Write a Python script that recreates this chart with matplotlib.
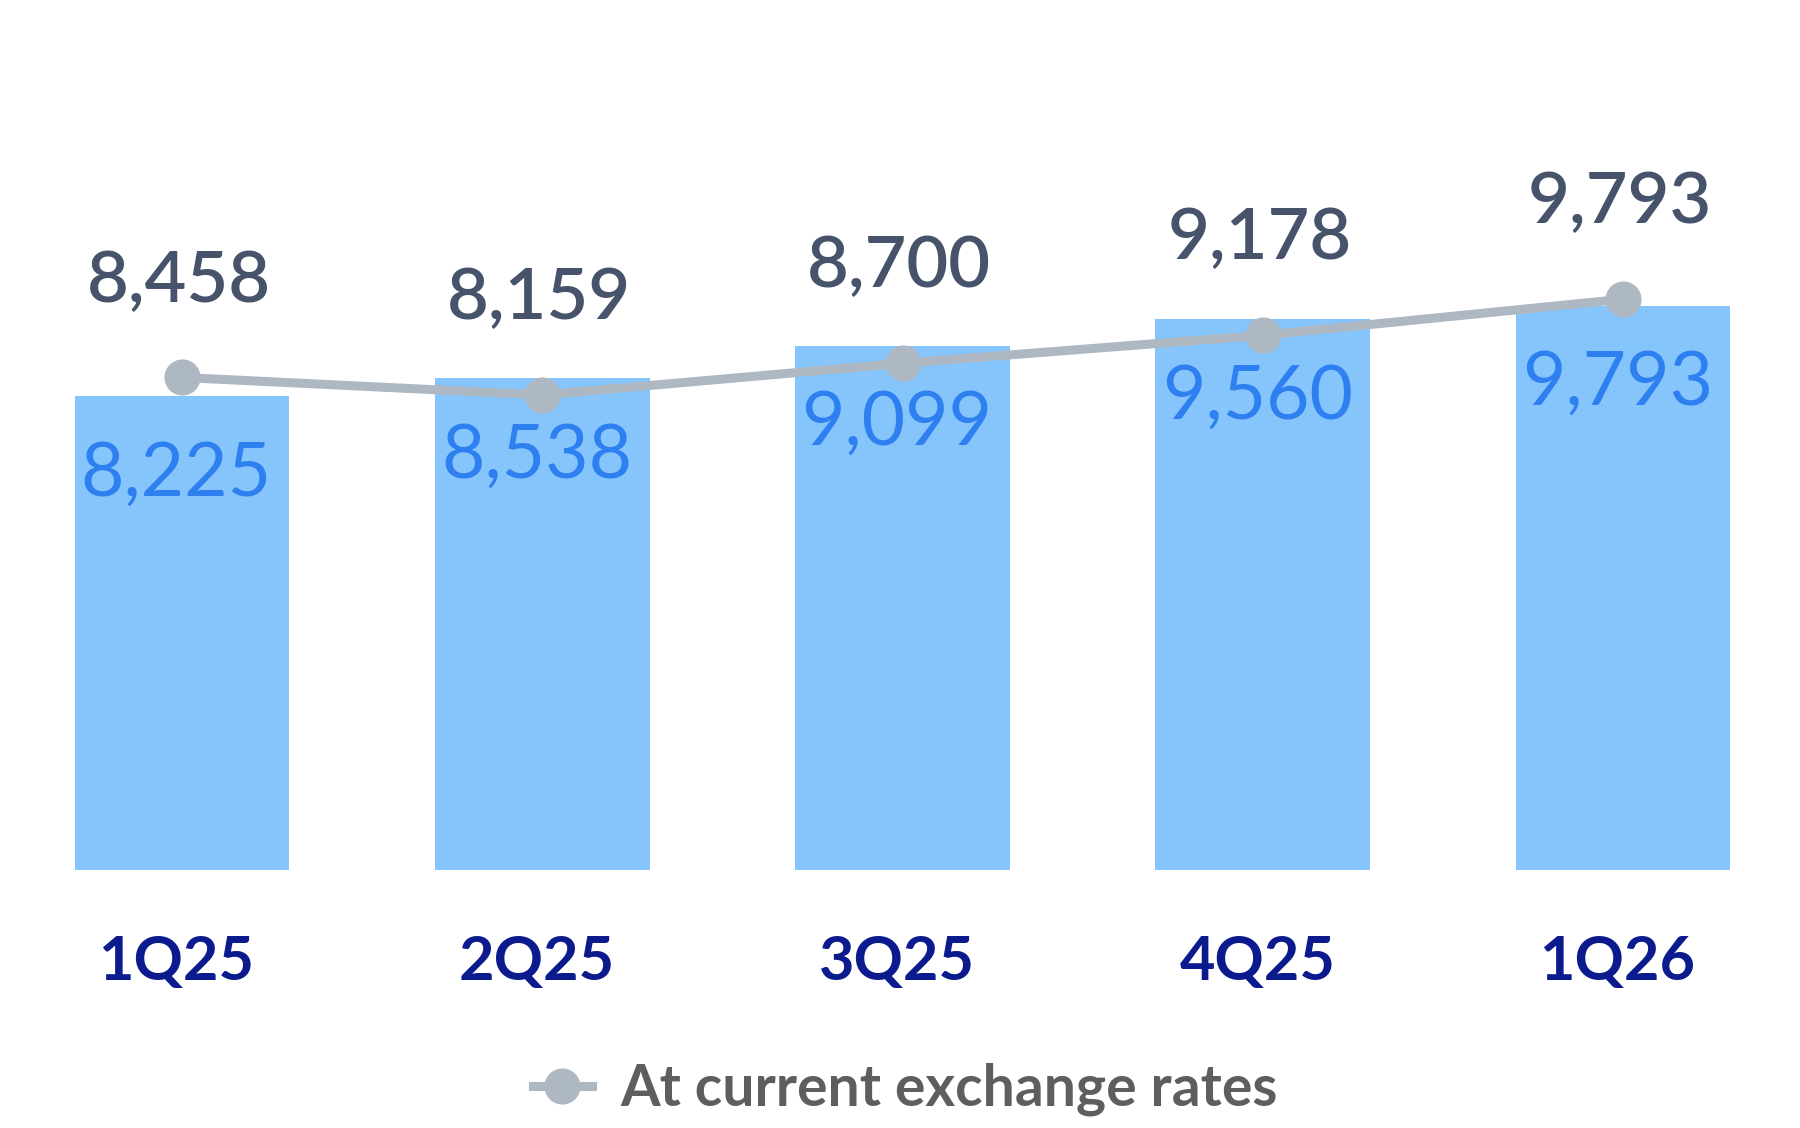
import matplotlib
matplotlib.use("Agg")
import matplotlib.pyplot as plt

plt.rcParams['font.family'] = ['Lato', 'DejaVu Sans']

quarters = ['1Q25', '2Q25', '3Q25', '4Q25', '1Q26']
constant_fx = [8225, 8538, 9099, 9560, 9793]
current_fx = [8458, 8159, 8700, 9178, 9793]

bar_color = '#86C5FC'
bar_text = '#2E7FEF'
line_color = '#ADB8C3'
line_text = '#46536B'
cat_color = '#0B1A8C'

fig = plt.figure(figsize=(18, 11.28), dpi=100)
ax = fig.add_axes([0, 0.2283, 1, 0.7717])
x = list(range(len(quarters)))

ax.bar(x, constant_fx, width=0.596, color=bar_color)
ax.set_xlim(-0.505, 4.491)
ax.set_ylim(0, 15090)
for xi, v in zip(x, constant_fx):
    ax.annotate(f'{v:,}', (xi, v), xytext=(-4, -56), textcoords='offset points',
                ha='center', va='center', fontsize=54, color=bar_text)
ax.axis('off')

ax2 = ax.twinx()
ax2.set_ylim(43, 14900)
ln, = ax2.plot(x, current_fx, color=line_color, lw=6.5, marker='o', ms=25,
               label='At current exchange rates')
for xi, v in zip(x, current_fx):
    ax2.annotate(f'{v:,}', (xi, v), xytext=(-2.5, 69), textcoords='offset points',
                 ha='center', va='center', fontsize=52, fontweight='semibold',
                 color=line_text)
ax2.axis('off')

for xi, q in zip(x, quarters):
    ax.annotate(q, (xi, 0), xytext=(-4, -66), textcoords='offset points',
                ha='center', va='center', fontsize=44,
                fontweight='bold', color=cat_color)

leg = fig.legend(handles=[ln], loc='center', bbox_to_anchor=(0.503, 0.034),
                 frameon=False, fontsize=41, handlelength=1.05, handletextpad=0.5)
for t in leg.get_texts():
    t.set_color('#5E5E5E')
    t.set_fontweight('bold')

fig.savefig('out.png', dpi=100)
